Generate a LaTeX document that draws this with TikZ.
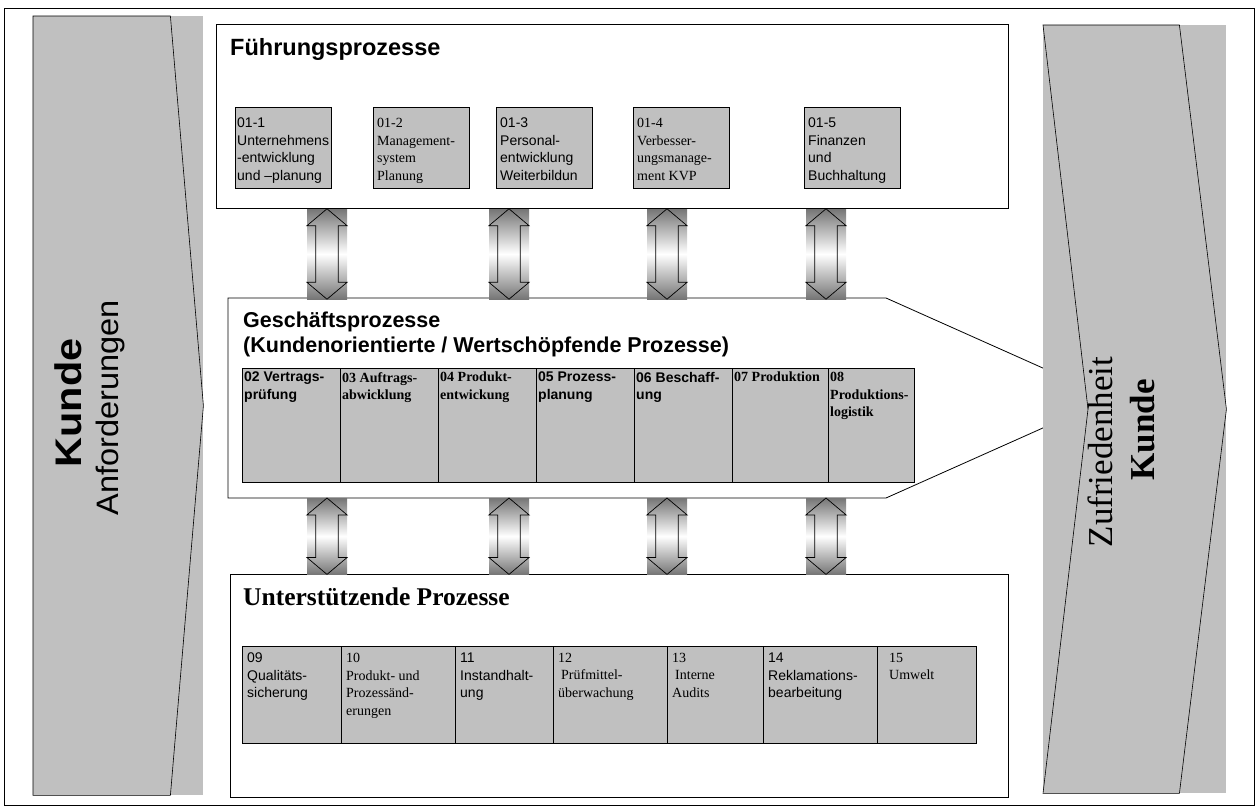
\documentclass[tikz,border=0pt]{standalone}
\usepackage{fontspec}
\setmainfont{Liberation Serif}
\newfontfamily\arialfam{Liberation Sans}
\usepackage{graphicx}

\definecolor{boxgray}{RGB}{192,192,192}
\definecolor{shadegray}{RGB}{118,118,118}

\newcommand{\smallsans}{\arialfam\fontsize{14}{17.5}\selectfont}
\newcommand{\smallserif}{\rmfamily\fontsize{14}{17.5}\selectfont}

% outline of a double arrow drawn over a shaded node
\newcommand{\arrowoutline}[1]{%
  \draw[arrowline] (#1.north) -- ([yshift=-17pt]#1.north east)
    -- ([shift={(-9pt,-17pt)}]#1.north east) -- ([shift={(-9pt,17pt)}]#1.south east)
    -- ([yshift=17pt]#1.south east) -- (#1.south) -- ([yshift=17pt]#1.south west)
    -- ([shift={(9pt,17pt)}]#1.south west) -- ([shift={(9pt,-17pt)}]#1.north west)
    -- ([yshift=-17pt]#1.north west) -- cycle;}

\tikzset{
  procbox/.style={draw, fill=boxgray, line width=0.8pt, anchor=north west, inner sep=0pt},
  proctext/.style={anchor=north west, align=left, inner sep=2pt},
  stage/.style={draw, fill=white, line width=0.8pt, anchor=north west, inner sep=0pt},
  backdrop/.style={fill=boxgray, anchor=north west, inner sep=0pt},
  updown/.style={top color=shadegray, bottom color=shadegray, middle color=white,
    anchor=north, minimum width=40pt, inner sep=0pt},
  arrowline/.style={draw, line width=0.7pt, line join=miter}
}

\begin{document}
\begin{tikzpicture}[x=1pt,y=-1pt]
    \useasboundingbox (0,0) rectangle (1257,809);
    \node[draw, line width=1.4pt, anchor=north west, minimum width=1250pt, minimum height=797pt, inner sep=0pt] (frame) at (3.5,7.5) {};

    % Kunde -> Anforderungen
    \node[backdrop, minimum width=170pt, minimum height=779pt] (lbg) at (33,16) {};
    \draw[fill=boxgray, line width=0.6pt] (lbg.north west) -- ([xshift=-33pt]lbg.north east) -- (lbg.east)
        -- ([xshift=-33pt]lbg.south east) -- (lbg.south west) -- cycle;
    \node[rotate=90, font=\arialfam\bfseries\fontsize{37}{44}\selectfont] (kin) at (68,403) {\scalebox{1.12}[1]{Kunde}};
    \node[rotate=90, font=\arialfam\fontsize{31}{36}\selectfont] (anf) at (110,408) {\scalebox{1.05}[1]{Anforderungen}};

    % Fuehrungsprozesse
    \node[stage, minimum width=792pt, minimum height=184pt] (fp) at (216,24) {};
    \node[anchor=base west, inner sep=0pt, font=\arialfam\bfseries\fontsize{23.5}{27}\selectfont] (fpt) at (230,55) {Führungsprozesse};

    \node[procbox, minimum width=96pt, minimum height=81pt] (f1) at (235,107) {};
    \node[procbox, minimum width=96pt, minimum height=81pt] (f2) at (373,107) {};
    \node[procbox, minimum width=96pt, minimum height=81pt] (f3) at (496,107) {};
    \node[procbox, minimum width=96pt, minimum height=81pt] (f4) at (633,107) {};
    \node[procbox, minimum width=96pt, minimum height=81pt] (f5) at (804,107) {};
    \node[proctext, font=\smallsans, yshift=-9pt] (f1t) at (f1.north west) {01-1\\Unternehmens\\-entwicklung\\und –planung};
    \node[proctext, font=\smallserif, yshift=-9pt, xshift=2pt] (f2t) at (f2.north west) {01-2\\Management-\\system\\Planung};
    \node[proctext, font=\smallsans, yshift=-9pt, xshift=2pt] (f3t) at (f3.north west) {01-3\\Personal-\\entwicklung\\Weiterbildun};
    \node[proctext, font=\smallserif, yshift=-9pt, xshift=2pt] (f4t) at (f4.north west) {01-4\\Verbesser-\\ungsmanage-\\ment KVP};
    \node[proctext, font=\smallsans, yshift=-9pt, xshift=2pt] (f5t) at (f5.north west) {01-5\\Finanzen\\und\\Buchhaltung};

    % Geschaeftsprozesse
    \draw[line width=0.8pt, fill=white] (228,298) coordinate (gpa) -- (886,298) coordinate (gpb)
        -- (1110,398) coordinate (gpc) -- (886,498) coordinate (gpd) -- (228,498) coordinate (gpe) -- cycle;
    \node[anchor=base west, inner sep=0pt, align=left, font=\arialfam\bfseries\fontsize{21.5}{24.5}\selectfont] (gpt) at (243,352)
        {Geschäftsprozesse\\(Kundenorientierte / Wertschöpfende Prozesse)};

    \node[procbox, minimum width=98pt, minimum height=114pt] (g2) at (242,368) {};
    \node[procbox, minimum width=98pt, minimum height=114pt] (g3) at (340,368) {};
    \node[procbox, minimum width=98pt, minimum height=114pt] (g4) at (438,368) {};
    \node[procbox, minimum width=98pt, minimum height=114pt] (g5) at (536,368) {};
    \node[procbox, minimum width=98pt, minimum height=114pt] (g6) at (634,368) {};
    \node[procbox, minimum width=96pt, minimum height=114pt] (g7) at (732,368) {};
    \node[procbox, minimum width=86pt, minimum height=114pt] (g8) at (828,368) {};
    \node[proctext, font=\smallsans\bfseries, yshift=-2pt] (g2t) at (g2.north west) {02 Vertrags-\\prüfung};
    \node[proctext, font=\smallserif\bfseries, yshift=-2pt] (g3t) at (g3.north west) {03 Auftrags-\\abwicklung};
    \node[proctext, font=\smallserif\bfseries, yshift=-2pt] (g4t) at (g4.north west) {04 Produkt-\\entwickung};
    \node[proctext, font=\smallsans\bfseries, yshift=-2pt] (g5t) at (g5.north west) {05 Prozess-\\planung};
    \node[proctext, font=\smallsans\bfseries, yshift=-2pt] (g6t) at (g6.north west) {06 Beschaff-\\ung};
    \node[proctext, font=\smallserif\bfseries, yshift=-2pt] (g7t) at (g7.north west) {07 Produktion};
    \node[proctext, font=\smallserif\bfseries, yshift=-2pt] (g8t) at (g8.north west) {08\\Produktions-\\logistik};

    % Unterstuetzende Prozesse
    \node[stage, minimum width=778pt, minimum height=223pt] (up) at (230,574) {};
    \node[anchor=base west, inner sep=0pt, font=\bfseries\fontsize{25.5}{29}\selectfont] (upt) at (243,605) {Unterstützende Prozesse};

    \node[procbox, minimum width=99pt, minimum height=97pt] (u09) at (242,646) {};
    \node[procbox, minimum width=114pt, minimum height=97pt] (u10) at (341,646) {};
    \node[procbox, minimum width=98pt, minimum height=97pt] (u11) at (455,646) {};
    \node[procbox, minimum width=114pt, minimum height=97pt] (u12) at (553,646) {};
    \node[procbox, minimum width=96pt, minimum height=97pt] (u13) at (667,646) {};
    \node[procbox, minimum width=114pt, minimum height=97pt] (u14) at (763,646) {};
    \node[procbox, minimum width=99pt, minimum height=97pt] (u15) at (877,646) {};
    \node[proctext, font=\smallsans, yshift=-5pt, xshift=3pt] (u09t) at (u09.north west) {09\\Qualitäts-\\sicherung};
    \node[proctext, font=\smallserif, yshift=-5pt, xshift=3pt] (u10t) at (u10.north west) {10\\Produkt- und\\Prozessänd-\\erungen};
    \node[proctext, font=\smallsans, yshift=-5pt, xshift=3pt] (u11t) at (u11.north west) {11\\Instandhalt-\\ung};
    \node[proctext, font=\smallserif, yshift=-5pt, xshift=3pt] (u12t) at (u12.north west) {12\\\hspace{3pt}Prüfmittel-\\überwachung};
    \node[proctext, font=\smallserif, yshift=-5pt, xshift=3pt] (u13t) at (u13.north west) {13\\\hspace{3pt}Interne\\Audits};
    \node[proctext, font=\smallsans, yshift=-5pt, xshift=3pt] (u14t) at (u14.north west) {14\\Reklamations-\\bearbeitung};
    \node[proctext, font=\smallserif, yshift=-5pt, xshift=10pt] (u15t) at (u15.north west) {15\\Umwelt};

    % double arrows between the levels
    \node[updown, minimum height=90pt] (ud1) at (fp.south -| 327,0) {};
    \node[updown, minimum height=90pt] (ud2) at (fp.south -| 509,0) {};
    \node[updown, minimum height=90pt] (ud3) at (fp.south -| 667,0) {};
    \node[updown, minimum height=90pt] (ud4) at (fp.south -| 826,0) {};
    \node[updown, minimum height=76pt] (ud5) at (gpe -| 327,0) {};
    \node[updown, minimum height=76pt] (ud6) at (gpe -| 509,0) {};
    \node[updown, minimum height=76pt] (ud7) at (gpe -| 667,0) {};
    \node[updown, minimum height=76pt] (ud8) at (gpe -| 826,0) {};
    \arrowoutline{ud1}
    \arrowoutline{ud2}
    \arrowoutline{ud3}
    \arrowoutline{ud4}
    \arrowoutline{ud5}
    \arrowoutline{ud6}
    \arrowoutline{ud7}
    \arrowoutline{ud8}

    % Zufriedenheit Kunde
    \node[backdrop, minimum width=183pt, minimum height=768pt] (rbg) at (1043,25) {};
    \draw[fill=boxgray, line width=0.6pt] (rbg.north west) -- ([xshift=-47pt]rbg.north east) -- (rbg.east)
        -- ([xshift=-47pt]rbg.south east) -- (rbg.south west) -- ([xshift=45pt]rbg.west) -- cycle;
    \node[rotate=90, font=\fontsize{35}{40}\selectfont] (zuf) at (1100,452) {Zufriedenheit};
    \node[rotate=90, font=\bfseries\fontsize{35}{40}\selectfont] (kout) at (1143,430) {Kunde};
\end{tikzpicture}
\end{document}
